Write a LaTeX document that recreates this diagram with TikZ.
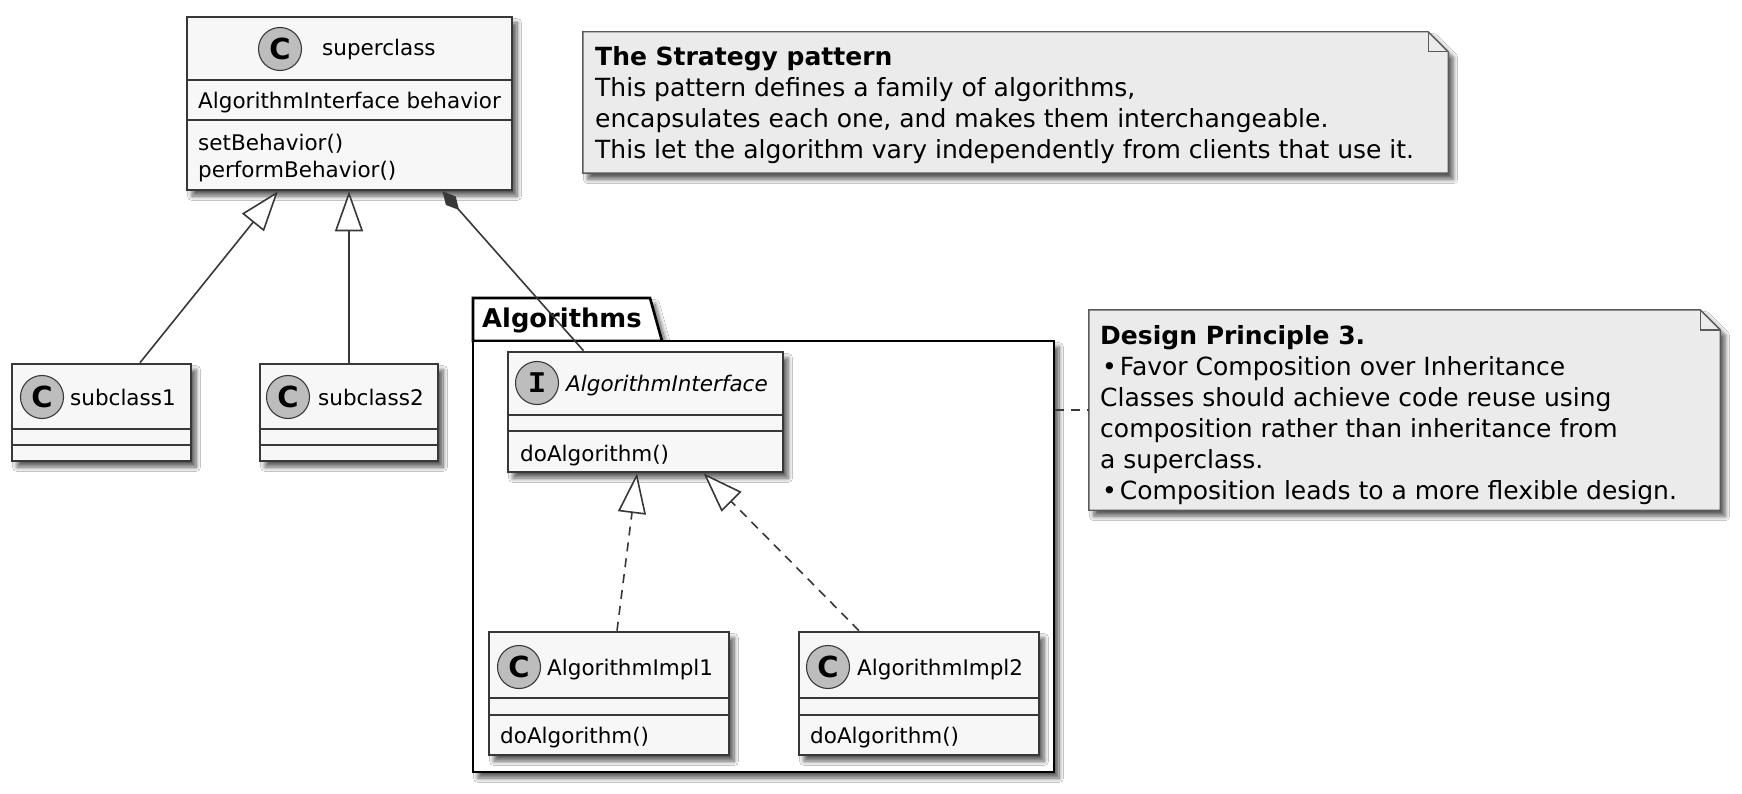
\documentclass[tikz,border=0pt]{standalone}
\usepackage{fontspec}
\setmainfont{DejaVu Sans}
\newfontfamily\slabfont{Liberation Mono}
\usetikzlibrary{arrows.meta,shadows.blur}
\definecolor{clsfill}{HTML}{F7F7F7}
\definecolor{clsdraw}{HTML}{383838}
\definecolor{circfill}{HTML}{BDBDBD}
\definecolor{notefill}{HTML}{EBEBEB}
\definecolor{notedraw}{HTML}{5A5A5A}
\tikzset{
  shd/.style={blur shadow={shadow xshift=5pt, shadow yshift=-6pt, shadow blur steps=8, shadow blur radius=4.5pt, shadow opacity=65}},
  cls/.style={rectangle, draw=clsdraw, fill=clsfill, line width=2.6pt, inner sep=0pt, shd},
  sepline/.style={draw=clsdraw, line width=2.2pt},
  icon/.style={circle, draw=clsdraw, line width=1.1pt, fill=circfill, minimum size=43pt, inner sep=0pt, font=\fontsize{29}{29}\selectfont\bfseries},
  ctext/.style={anchor=base west, inner sep=0pt, font=\fontsize{21.5}{26}\selectfont},
  pkgstyle/.style={draw=black, fill=white, line width=2.6pt, shd},
  notebox/.style={rectangle, draw=none, inner sep=0pt},
  noteshape/.style={draw=notedraw, fill=notefill, line width=1.4pt, line join=miter, shd},
  notefold/.style={draw=notedraw, line width=1.4pt},
  ntext/.style={anchor=base west, inner sep=0pt, font=\fontsize{25}{31}\selectfont},
  link/.style={draw=clsdraw, line width=1.6pt},
  inherit/.style={link, -{Triangle[length=40pt, width=28pt, fill=white, line width=1.6pt]}},
  realize/.style={inherit, dash pattern=on 9pt off 7pt},
  compose/.style={link, {Diamond[length=25pt, width=13pt]}-},
  notelink/.style={link, dash pattern=on 9pt off 7pt},
}
\begin{document}
\begin{tikzpicture}[x=1pt,y=-1pt]
\useasboundingbox[fill=white] (0,0) rectangle (1742,794);

% package
\path[pkgstyle] (473,341) -- (473,298) -- (650,298) -- (662,341) -- cycle;
\node[pkgstyle, rectangle, minimum width=581pt, minimum height=431pt, inner sep=0pt] (pkg) at (763.5,556.5) {};
\node[anchor=base west, inner sep=0pt, font=\fontsize{25.8}{30}\selectfont\bfseries] (pkglabel) at (482,327) {Algorithms};

% superclass
\node[cls, minimum width=325pt, minimum height=173pt] (sup) at (349.5,103.5) {};
\draw[sepline] (187,80) -- (512,80);
\draw[sepline] (187,120) -- (512,120);
\node[icon] (supicon) at (280,49) {C};
\node[ctext] (supname) at (322,56) {superclass};
\node[ctext] (supattr) at (198,109) {AlgorithmInterface behavior};
\node[ctext] (supm1) at (198,151) {setBehavior()};
\node[ctext] (supm2) at (198,178) {performBehavior()};

% subclass1
\node[cls, minimum width=179pt, minimum height=97pt] (sub1) at (101.5,412.5) {};
\draw[sepline] (12,429) -- (191,429);
\draw[sepline] (12,445) -- (191,445);
\node[icon] (sub1icon) at (42,397) {C};
\node[ctext] (sub1name) at (70,405) {subclass1};

% subclass2
\node[cls, minimum width=178pt, minimum height=97pt] (sub2) at (349,412.5) {};
\draw[sepline] (260,429) -- (438,429);
\draw[sepline] (260,445) -- (438,445);
\node[icon] (sub2icon) at (288,397) {C};
\node[ctext] (sub2name) at (318,405) {subclass2};

% AlgorithmInterface
\node[cls, minimum width=275pt, minimum height=120pt] (iface) at (645.5,412) {};
\draw[sepline] (508,415) -- (783,415);
\draw[sepline] (508,431) -- (783,431);
\node[icon, font=\fontsize{30}{30}\selectfont\slabfont\bfseries] (ifaceicon) at (537,383) {I};
\node[ctext, font=\fontsize{21.5}{26}\selectfont\itshape] (ifacename) at (566,391) {AlgorithmInterface};
\node[ctext] (ifacem) at (520,461) {doAlgorithm()};

% AlgorithmImpl1
\node[cls, minimum width=240pt, minimum height=123pt] (impl1) at (609,693.5) {};
\draw[sepline] (489,698) -- (729,698);
\draw[sepline] (489,715) -- (729,715);
\node[icon] (impl1icon) at (519,667) {C};
\node[ctext] (impl1name) at (547,675) {AlgorithmImpl1};
\node[ctext] (impl1m) at (500,743) {doAlgorithm()};

% AlgorithmImpl2
\node[cls, minimum width=240pt, minimum height=123pt] (impl2) at (919,693.5) {};
\draw[sepline] (799,698) -- (1039,698);
\draw[sepline] (799,715) -- (1039,715);
\node[icon] (impl2icon) at (828,667) {C};
\node[ctext] (impl2name) at (857,675) {AlgorithmImpl2};
\node[ctext] (impl2m) at (810,743) {doAlgorithm()};

% note 1
\node[notebox, minimum width=865pt, minimum height=141pt] (note1) at (1015.5,102.5) {};
\path[noteshape] (note1.north west) -- ([xshift=-20pt]note1.north east) -- ([yshift=-20pt]note1.north east) -- (note1.south east) -- (note1.south west) -- cycle;
\draw[notefold] ([xshift=-20pt]note1.north east) -- ([xshift=-20pt,yshift=-20pt]note1.north east) -- ([yshift=-20pt]note1.north east);
\node[ntext] (note1text) at (595,66) {\begin{tabular}[t]{@{}l@{}}\bfseries The Strategy pattern\\
This pattern defines a family of algorithms,\\
encapsulates each one, and makes them interchangeable.\\
This let the algorithm vary independently from clients that use it.\end{tabular}};

% note 2
\node[notebox, minimum width=631pt, minimum height=200pt] (note2) at (1404.5,410) {};
\path[noteshape] (note2.north west) -- ([xshift=-20pt]note2.north east) -- ([yshift=-20pt]note2.north east) -- (note2.south east) -- (note2.south west) -- cycle;
\draw[notefold] ([xshift=-20pt]note2.north east) -- ([xshift=-20pt,yshift=-20pt]note2.north east) -- ([yshift=-20pt]note2.north east);
\node[ntext] (note2text) at (1100,344) {\begin{tabular}[t]{@{}l@{}}\bfseries Design Principle 3.\\
\hspace{2pt}•\hspace{3pt}Favor Composition over Inheritance\\
Classes should achieve code reuse using\\
composition rather than inheritance from\\
a superclass.\\
\hspace{2pt}•\hspace{3pt}Composition leads to a more flexible design.\end{tabular}};

% connectors
\draw[inherit] ([xshift=38.5pt]sub1.north) -- ([xshift=-71.5pt]sup.south);
\draw[inherit] (sub2.north) -- (sub2.north |- sup.south);
\draw[compose] ([xshift=93pt]sup.south) -- ([xshift=-62pt]iface.north);
\draw[realize] ([xshift=8pt]impl1.north) -- ([xshift=-8.5pt]iface.south);
\draw[realize] ([xshift=-60pt]impl2.north) -- ([xshift=58pt]iface.south);
\draw[notelink] (pkg.east |- note2.west) -- (note2.west);
\end{tikzpicture}
\end{document}
